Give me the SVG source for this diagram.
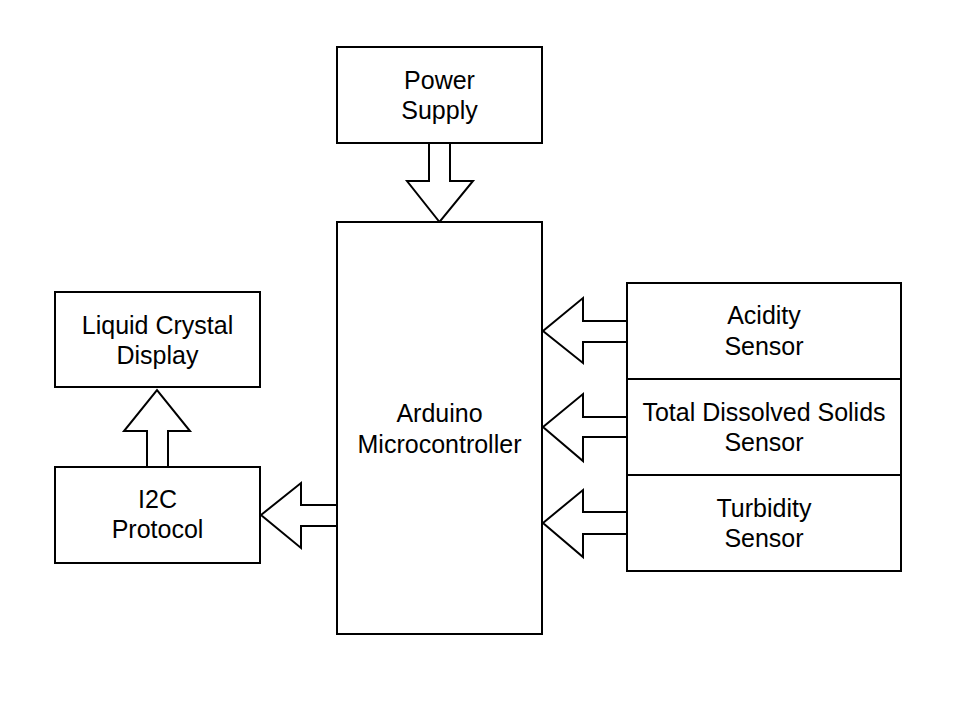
<svg xmlns="http://www.w3.org/2000/svg" width="966" height="712" viewBox="0 0 966 712">
<style>
.box{fill:#fff;stroke:#000;stroke-width:2}
.arr{fill:#fff;stroke:#000;stroke-width:2;stroke-linejoin:miter}
text{font-family:"Liberation Sans",Arial,sans-serif;font-size:25px;fill:#000;text-anchor:middle}
</style>
<rect width="966" height="712" fill="#fff"/>
<g id="connectors">
<polygon class="arr" points="429,143 450,143 450,181 473,181 439.5,222 407,181 429,181"/>
<polygon class="arr" points="627,321 583,321 583,298 543,331 583,363 583,342 627,342"/>
<polygon class="arr" points="627,417 583,417 583,394 543,427 583,461 583,437 627,437"/>
<polygon class="arr" points="627,512 583,512 583,490 543,523 583,557 583,534 627,534"/>
<polygon class="arr" points="337,505 301,505 301,483 261,515 301,548 301,526 337,526"/>
<polygon class="arr" points="147,467 168,467 168,431 190,431 157,390 124,431 147,431"/>
</g>
<g id="power"><rect class="box" x="337" y="47" width="205" height="96"/><text x="439.5" y="89">Power</text><text x="439.5" y="119">Supply</text></g>
<g id="arduino"><rect class="box" x="337" y="222" width="205" height="412"/><text x="439.5" y="422">Arduino</text><text x="439.5" y="453">Microcontroller</text></g>
<g id="acidity"><rect class="box" x="627" y="283" width="274" height="96"/><text x="764" y="324">Acidity</text><text x="764" y="355">Sensor</text></g>
<g id="tds"><rect class="box" x="627" y="379" width="274" height="96"/><text x="764" y="421">Total Dissolved Solids</text><text x="764" y="451">Sensor</text></g>
<g id="turbidity"><rect class="box" x="627" y="475" width="274" height="96"/><text x="764" y="517">Turbidity</text><text x="764" y="547">Sensor</text></g>
<g id="lcd"><rect class="box" x="55" y="292" width="205" height="95"/><text x="157.5" y="334">Liquid Crystal</text><text x="157.5" y="364">Display</text></g>
<g id="i2c"><rect class="box" x="55" y="467" width="205" height="96"/><text x="157.5" y="508">I2C</text><text x="157.5" y="538">Protocol</text></g>
</svg>
